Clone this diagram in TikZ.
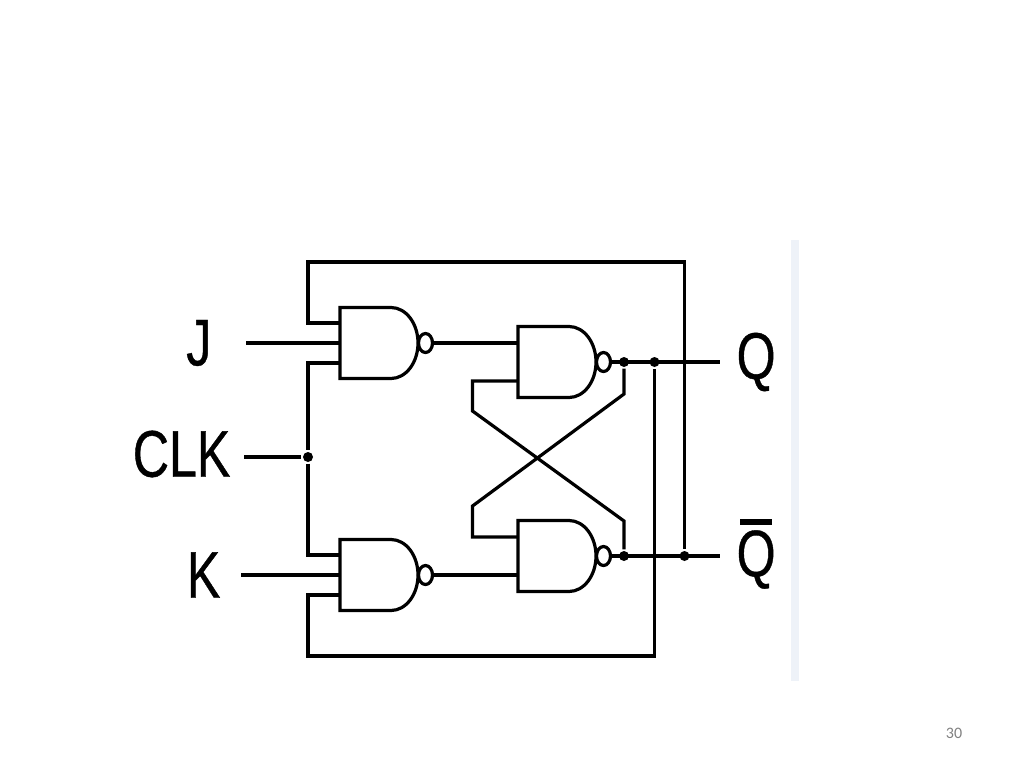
\documentclass[tikz,border=0pt]{standalone}
\usepackage{fontspec}
\newfontfamily\labelfont[FakeStretch=0.76,FakeBold=0.6]{Liberation Sans}
\newfontfamily\pagefont{Carlito}
\definecolor{stripblue}{RGB}{238,242,248}
\usetikzlibrary{positioning}
\tikzset{
  nandgate/.pic={
    \draw (12,-35.5) -- (-39,-35.5) -- (-39,35.5) -- (12,35.5) arc[start angle=90,end angle=-90,x radius=27,y radius=35.5];
    \draw (46.5,0) ellipse [x radius=7,y radius=9.5];
    \coordinate (-a) at (-39,-#1);
    \coordinate (-b) at (-39,0);
    \coordinate (-c) at (-39,#1);
    \coordinate (-d) at (53.5,0);
  },
  joint/.style={circle,fill=black,inner sep=0pt,minimum size=10pt},
  pinlabel/.style={font=\labelfont\fontsize{66pt}{66pt}\selectfont,inner sep=0pt}
}
\begin{document}
\begin{tikzpicture}[x=1pt,y=-1pt,line width=3.2pt]
\useasboundingbox (0,0) rectangle (1024,768);

\fill[stripblue] (791,240) rectangle (799,681);

\pic (nj) at (379,343) {nandgate=20};
\pic (nk) at (379,575) {nandgate=20};
\pic (lt) at (557,362) {nandgate=19};
\pic (lb) at (557,556) {nandgate=19};

\coordinate (jin) at (246,343);
\coordinate (kin) at (241,575);
\coordinate (clkin) at (244,457);
\coordinate (qout) at (720,362);
\coordinate (qbout) at (720,556);
\coordinate (tl) at (308,262);
\coordinate (bl) at (308,656);

\node[pinlabel] (j) [left=33pt of jin] {J};
\node[pinlabel] (clk) [left=12pt of clkin,yshift=3pt] {CLK};
\node[pinlabel] (k) [left=19pt of kin] {K};
\node[pinlabel] (q) [right=15pt of qout] {Q};
\node[pinlabel] (qb) [right=15pt of qbout,yshift=2pt] {\vbox{\offinterlineskip\hbox{\kern 3pt\vrule width 32pt height 6pt}\kern 5pt\hbox{Q}}};
\node[font=\pagefont\fontsize{16pt}{16pt}\selectfont,text=gray] (pg) at (954,733) {30};

\node[joint] (clkdot) at (308,457) {};
\node[joint] (t1) at (624,362) {};
\node[joint] (t2) at (654.5,362) {};
\node[joint] (b1) at (624,556) {};
\node[joint] (b2) at (684.5,556) {};

\draw (jin) -- (nj-b);
\draw (kin) -- (nk-b);
\draw (clkin) -- (clkdot);
\draw (nj-c) -| (clkdot) |- (nk-a);
\draw (nj-d) -- (lt-a);
\draw (nk-d) -- (lb-c);
\draw (lt-d) -- (qout);
\draw (lb-d) -- (qbout);

\draw (nj-a) -| (tl) -| (b2);
\draw (nk-c) -| (bl) -| (t2);

\draw (t1) -- (624,394) -- (472.5,506) -- (472.5,537) -- (lb-a);
\draw (b1) -- (624,521) -- (472.5,411) -- (472.5,381) -- (lt-c);
\end{tikzpicture}
\end{document}
